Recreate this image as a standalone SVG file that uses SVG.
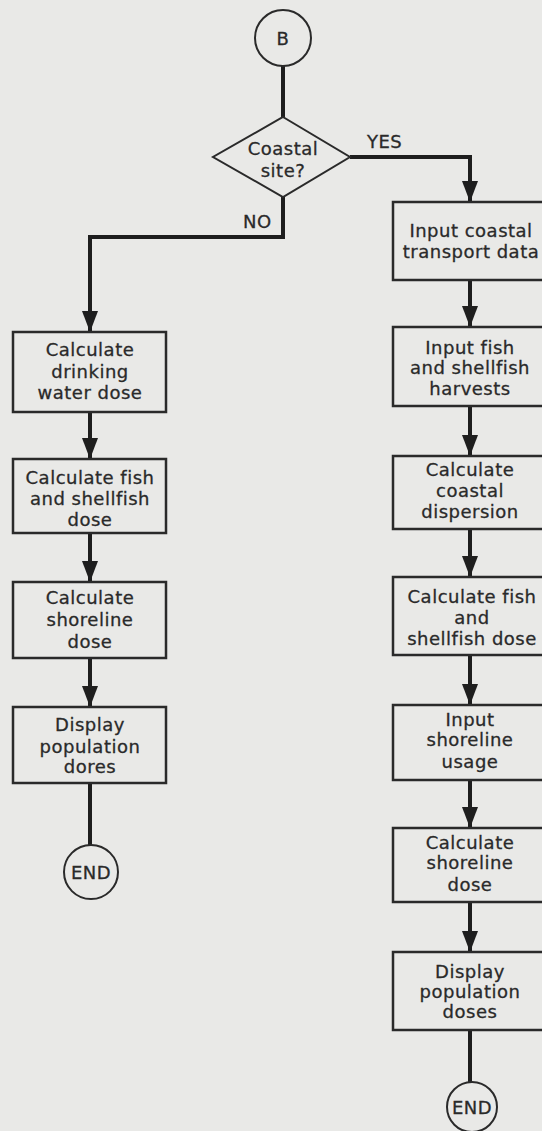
<svg xmlns="http://www.w3.org/2000/svg" width="542" height="1131" viewBox="0 0 542 1131">
<style>
.bg{fill:#e9e9e7}
.box{fill:none;stroke:#2a2a2a;stroke-width:2.5}
.term{fill:none;stroke:#2a2a2a;stroke-width:2}
.t{font-family:"DejaVu Sans",sans-serif;font-size:18px;fill:#2a2a2a;stroke:#2a2a2a;stroke-width:0.3;text-anchor:middle;letter-spacing:0.5px}
.lbl{font-family:"DejaVu Sans",sans-serif;font-size:18px;fill:#2a2a2a;stroke:#2a2a2a;stroke-width:0.3;letter-spacing:0.5px}
.c{fill:none;stroke:#1e1e1e;stroke-width:4}
</style>
<defs>
<marker id="ah" markerUnits="userSpaceOnUse" markerWidth="22" markerHeight="16" refX="21" refY="8" orient="auto">
<path d="M0,0 L21,8 L0,16 z" fill="#1e1e1e"/>
</marker>
</defs>
<rect class="bg" x="0" y="0" width="542" height="1131"/>

<g id="connectors">
<line class="c" x1="283" y1="66" x2="283" y2="117"/>
<polyline class="c" points="350,157 470,157 470,202" marker-end="url(#ah)"/>
<polyline class="c" points="283,197 283,237 90,237 90,332" marker-end="url(#ah)"/>
<line class="c" x1="90" y1="412" x2="90" y2="459" marker-end="url(#ah)"/>
<line class="c" x1="90" y1="533" x2="90" y2="582" marker-end="url(#ah)"/>
<line class="c" x1="90" y1="658" x2="90" y2="707" marker-end="url(#ah)"/>
<line class="c" x1="90" y1="783" x2="90" y2="845"/>
<line class="c" x1="470" y1="280" x2="470" y2="327" marker-end="url(#ah)"/>
<line class="c" x1="470" y1="406" x2="470" y2="456" marker-end="url(#ah)"/>
<line class="c" x1="470" y1="529" x2="470" y2="577" marker-end="url(#ah)"/>
<line class="c" x1="470" y1="655" x2="470" y2="705" marker-end="url(#ah)"/>
<line class="c" x1="470" y1="780" x2="470" y2="828" marker-end="url(#ah)"/>
<line class="c" x1="470" y1="902" x2="470" y2="952" marker-end="url(#ah)"/>
<line class="c" x1="470" y1="1030" x2="470" y2="1082"/>
<text class="lbl" x="367" y="148">YES</text>
<text class="lbl" x="243" y="228">NO</text>
</g>

<g id="start">
<circle class="term" cx="283" cy="38" r="28"/>
<text class="t" x="283" y="45">B</text>
</g>

<g id="decision">
<polygon class="term" points="283,117 350,157 283,197 213,157"/>
<text class="t" x="283" y="155">Coastal</text>
<text class="t" x="283" y="177">site?</text>
</g>

<g id="l1">
<rect class="box" x="13" y="332" width="153" height="80"/>
<text class="t" x="90" y="356">Calculate</text>
<text class="t" x="90" y="378">drinking</text>
<text class="t" x="90" y="399">water dose</text>
</g>
<g id="l2">
<rect class="box" x="13" y="459" width="153" height="74"/>
<text class="t" x="90" y="484">Calculate fish</text>
<text class="t" x="90" y="505">and shellfish</text>
<text class="t" x="90" y="526">dose</text>
</g>
<g id="l3">
<rect class="box" x="13" y="582" width="153" height="76"/>
<text class="t" x="90" y="604">Calculate</text>
<text class="t" x="90" y="626">shoreline</text>
<text class="t" x="90" y="648">dose</text>
</g>
<g id="l4">
<rect class="box" x="13" y="707" width="153" height="76"/>
<text class="t" x="90" y="731">Display</text>
<text class="t" x="90" y="753">population</text>
<text class="t" x="90" y="773">dores</text>
</g>
<g id="lend">
<circle class="term" cx="91" cy="872" r="27"/>
<text class="t" x="91" y="879">END</text>
</g>

<g id="r1">
<rect class="box" x="393" y="202" width="158" height="78"/>
<text class="t" x="471" y="237">Input coastal</text>
<text class="t" x="471" y="258">transport data</text>
</g>
<g id="r2">
<rect class="box" x="393" y="327" width="158" height="79"/>
<text class="t" x="470" y="354">Input fish</text>
<text class="t" x="470" y="374">and shellfish</text>
<text class="t" x="470" y="395">harvests</text>
</g>
<g id="r3">
<rect class="box" x="393" y="456" width="158" height="73"/>
<text class="t" x="470" y="476">Calculate</text>
<text class="t" x="470" y="497">coastal</text>
<text class="t" x="470" y="518">dispersion</text>
</g>
<g id="r4">
<rect class="box" x="393" y="577" width="158" height="78"/>
<text class="t" x="472" y="603">Calculate fish</text>
<text class="t" x="472" y="624">and</text>
<text class="t" x="472" y="645">shellfish dose</text>
</g>
<g id="r5">
<rect class="box" x="393" y="705" width="158" height="75"/>
<text class="t" x="470" y="726">Input</text>
<text class="t" x="470" y="746">shoreline</text>
<text class="t" x="470" y="768">usage</text>
</g>
<g id="r6">
<rect class="box" x="393" y="828" width="158" height="74"/>
<text class="t" x="470" y="849">Calculate</text>
<text class="t" x="470" y="869">shoreline</text>
<text class="t" x="470" y="891">dose</text>
</g>
<g id="r7">
<rect class="box" x="393" y="952" width="158" height="78"/>
<text class="t" x="470" y="978">Display</text>
<text class="t" x="470" y="998">population</text>
<text class="t" x="470" y="1018">doses</text>
</g>
<g id="rend">
<circle class="term" cx="472" cy="1107" r="25"/>
<text class="t" x="472" y="1114">END</text>
</g>
</svg>
